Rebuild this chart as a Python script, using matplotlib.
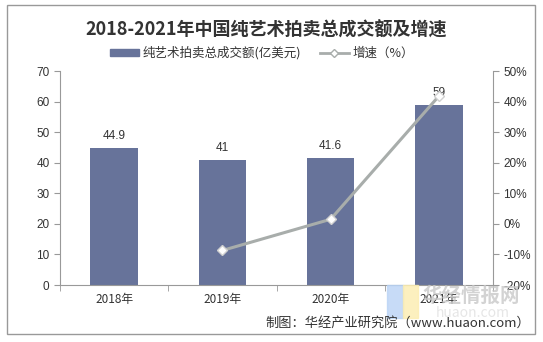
import matplotlib.pyplot as plt
import numpy as np
from matplotlib.patches import Rectangle, Patch
from matplotlib.lines import Line2D

plt.rcParams['font.family'] = ['Noto Sans CJK SC', 'DejaVu Sans']

years = ['2018年', '2019年', '2020年', '2021年']
amount = [44.9, 41, 41.6, 59]
growth = [None, -8.7, 1.5, 41.8]

fig = plt.figure(figsize=(5.43, 3.42), dpi=100)
ax = fig.add_axes([60/543, 1-285/342, 433/543, 214/342])
ax2 = ax.twinx()

x = np.arange(len(years))
ax.bar(x, amount, width=0.44, color='#67739A', zorder=2)
for xi, v in zip(x, amount):
    ax.text(xi, v + 2, f'{v:g}', ha='center', va='bottom', fontsize=8.5, color='#333333',
            family=['Liberation Sans', 'DejaVu Sans'], zorder=1)

gx = [xi for xi, g in zip(x, growth) if g is not None]
gy = [g for g in growth if g is not None]
ax2.plot(gx, gy, color='#A8ADAB', lw=2.2, marker='D', ms=5, mfc='white', mec='#D0D0D0', zorder=3)

ax.set_xlim(-0.5, 3.5)
ax.set_ylim(0, 70)
ax.set_yticks(range(0, 71, 10))
ax2.set_ylim(-20, 50)
ax2.set_yticks(range(-20, 51, 10))
ax2.set_yticklabels([f'{t}%' for t in range(-20, 51, 10)])

ax.set_xticks(x)
ax.set_xticklabels(years)
ax.set_xticks(np.arange(-0.5, 4, 1), minor=True)
ax.tick_params(axis='x', which='major', length=0, pad=6)
ax.tick_params(axis='x', which='minor', length=4, color='#999999')
for a in (ax, ax2):
    for s in a.spines.values():
        s.set_visible(False)
ax.spines['left'].set_visible(True)
ax.spines['bottom'].set_visible(True)
ax2.spines['right'].set_visible(True)
for s in (ax.spines['left'], ax.spines['bottom'], ax2.spines['right']):
    s.set_color('#999999')
    s.set_linewidth(0.8)
ax.tick_params(axis='y', length=4, color='#999999', labelsize=8.5, labelcolor='#333333')
ax2.tick_params(axis='y', length=4, color='#999999', labelsize=8.5, labelcolor='#333333')
ax.tick_params(axis='x', labelsize=8.5, labelcolor='#333333')
for lab in ax.get_yticklabels() + ax2.get_yticklabels():
    lab.set_family(['Liberation Sans', 'DejaVu Sans'])

fig.text(266/543, 1-30/342, '2018-2021年中国纯艺术拍卖总成交额及增速', ha='center', va='center',
         fontsize=13, fontweight='bold', color='#333333')

handles = [Patch(color='#67739A'),
           Line2D([], [], color='#A8ADAB', lw=2, marker='D', ms=4, mfc='white', mec='#A8ADAB')]
fig.legend(handles, ['纯艺术拍卖总成交额(亿美元)', '增速（%）'], loc='center',
           bbox_to_anchor=(262/543, 1-53/342), ncol=2, frameon=False, fontsize=9,
           handlelength=2.3, handleheight=0.5, columnspacing=1.5, handletextpad=0.3,
           labelcolor='#333333')

# watermark
fig.add_artist(Rectangle((387/543, 1-318/342), 16/543, 33/342, transform=fig.transFigure,
                         color='#B9D3F5', alpha=0.8))
fig.add_artist(Rectangle((403/543, 1-318/342), 15/543, 33/342, transform=fig.transFigure,
                         color='#FCEDB0', alpha=0.8))
fig.text(471/543, 1-296/342, '华经情报网', ha='center', va='center', fontsize=14,
         fontweight='bold', color='#C8C8C8', alpha=0.8)
fig.text(473/543, 1-313/342, 'huaon.com', ha='center', va='center', fontsize=10,
         color='#E6E6E6')

fig.text(530/543, 1-323/342, '制图：华经产业研究院（www.huaon.com）', ha='right', va='center',
         fontsize=9.5, color='#333333')

fig.add_artist(Rectangle((7/543, 1-334/342), 528/543, 329/342, transform=fig.transFigure,
                         fill=False, edgecolor='#999999', lw=1))

fig.savefig('out.png', dpi=100)
